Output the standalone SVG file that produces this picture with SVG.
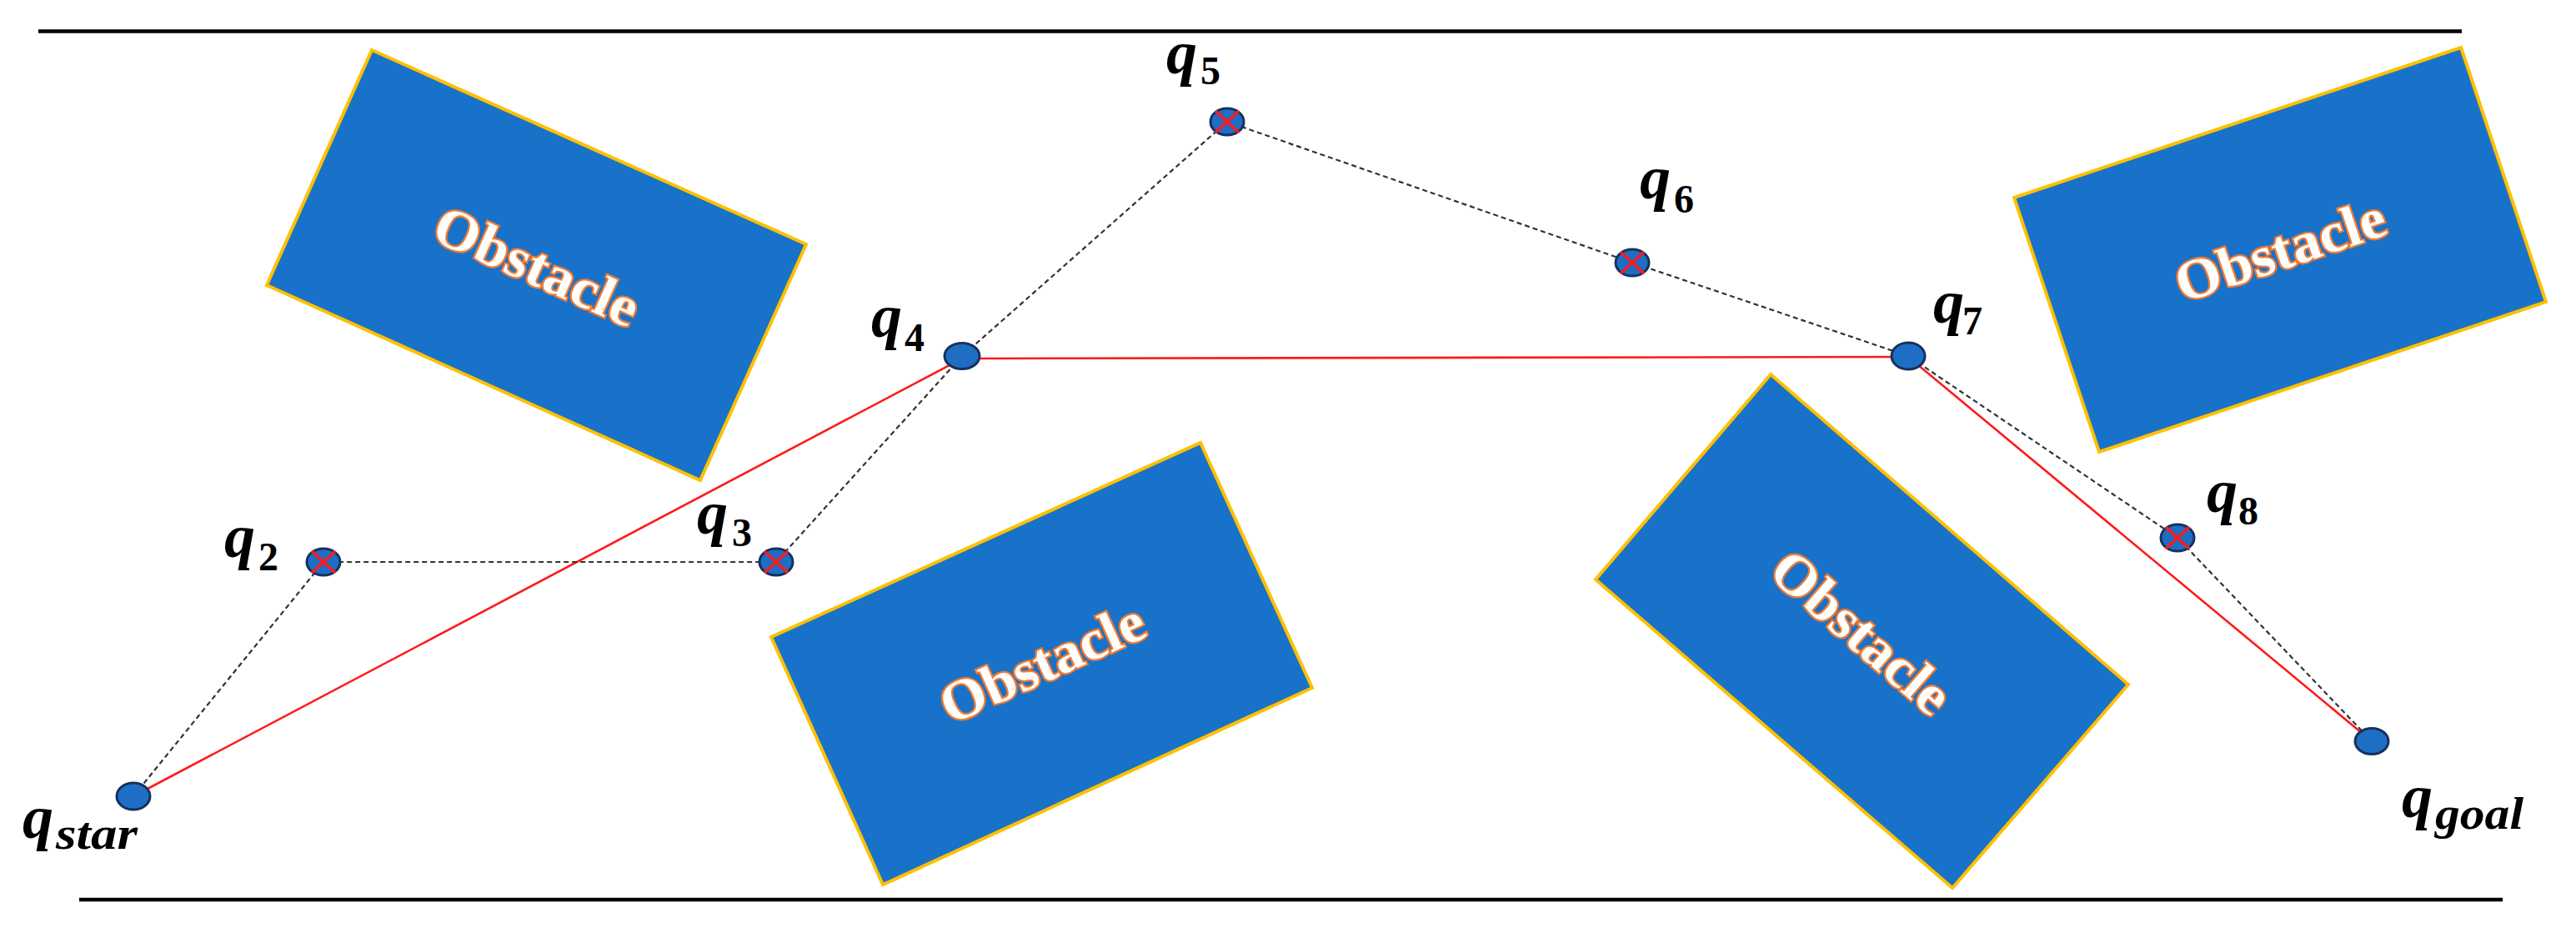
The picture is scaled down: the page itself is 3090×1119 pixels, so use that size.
<svg xmlns="http://www.w3.org/2000/svg" width="3090" height="1119" viewBox="0 0 3090 1119">
<style>
.frame{stroke:#000;stroke-width:4.5;fill:none}
.obs{fill:#1872C9;stroke:#FFC000;stroke-width:4;stroke-linejoin:miter}
.obt{font-family:"Liberation Serif",serif;font-weight:bold;font-size:68px;fill:#fff;stroke:#F47A2E;stroke-width:4.5;paint-order:stroke;text-anchor:middle;dominant-baseline:central}
.red{stroke:#FF1A1A;stroke-width:2.6;fill:none}
.dash{stroke:#333;stroke-width:2.2;stroke-dasharray:6 4;fill:none}
.nd{fill:#1E6EC4;stroke:#16325C;stroke-width:3}
.x{stroke:#FF1A1A;stroke-width:3.6}
.q{font-family:"Liberation Serif",serif;font-weight:bold;font-style:italic;font-size:74px;fill:#000}
.s{font-family:"Liberation Serif",serif;font-weight:bold;font-size:48px;fill:#000}
.si{font-family:"Liberation Serif",serif;font-weight:bold;font-style:italic;font-size:54px;fill:#000}
</style>
<defs>
<g id="xm"><line class="x" x1="-14" y1="-13" x2="14" y2="13"/><line class="x" x1="14" y1="-13" x2="-14" y2="13"/></g>
</defs>
<rect width="3090" height="1119" fill="#fff"/>
<g id="frame">
<line class="frame" x1="46" y1="37.5" x2="2953" y2="37.5"/>
<line class="frame" x1="95" y1="1079" x2="3002" y2="1079"/>
</g>
<g id="obstacle1">
<polygon class="obs" points="446,60 967,293 840,576 320,342"/>
<text class="obt" transform="translate(644,319) rotate(24.1)" textLength="262" lengthAdjust="spacingAndGlyphs">Obstacle</text>
</g>
<g id="obstacle2">
<polygon class="obs" points="1440,531 1574,825 1059,1061 925,764"/>
<text class="obt" transform="translate(1250,795) rotate(-24.3)" textLength="262" lengthAdjust="spacingAndGlyphs">Obstacle</text>
</g>
<g id="obstacle3">
<polygon class="obs" points="2124,449 2553,821 2342,1065 1914,695"/>
<text class="obt" transform="translate(2233,758) rotate(41)" textLength="262" lengthAdjust="spacingAndGlyphs">Obstacle</text>
</g>
<g id="obstacle4">
<polygon class="obs" points="2952,57 3054,362 2518,542 2416,237"/>
<text class="obt" transform="translate(2735,300) rotate(-18.6)" textLength="262" lengthAdjust="spacingAndGlyphs">Obstacle</text>
</g>
<g id="connectors">
<polyline class="red" points="160,955 1154,430 2289,428 2845,889"/>
<polyline class="dash" points="160,955 388,674 931,674 1154,427 1472,146 1958,315 2289,427 2612,645 2845,889"/>
</g>
<g id="q_star">
<ellipse class="nd" cx="160" cy="955" rx="20" ry="16"/>
<text x="27" y="1005"><tspan class="q">q</tspan><tspan class="si" x="67" y="1018" textLength="98" lengthAdjust="spacingAndGlyphs">star</tspan></text>
</g>
<g id="q2">
<ellipse class="nd" cx="388" cy="674" rx="20" ry="16"/><use href="#xm" x="388" y="674"/>
<text x="269" y="668"><tspan class="q">q</tspan><tspan class="s" x="310" y="684">2</tspan></text>
</g>
<g id="q3">
<ellipse class="nd" cx="931" cy="674" rx="20" ry="16"/><use href="#xm" x="931" y="674"/>
<text x="836" y="640"><tspan class="q">q</tspan><tspan class="s" x="878" y="655">3</tspan></text>
</g>
<g id="q4">
<ellipse class="nd" cx="1154" cy="427" rx="21" ry="15.5"/>
<text x="1045" y="404"><tspan class="q">q</tspan><tspan class="s" x="1085" y="421">4</tspan></text>
</g>
<g id="q5">
<ellipse class="nd" cx="1472" cy="146" rx="20" ry="16"/><use href="#xm" x="1472" y="146"/>
<text x="1399" y="88"><tspan class="q">q</tspan><tspan class="s" x="1440" y="101">5</tspan></text>
</g>
<g id="q6">
<ellipse class="nd" cx="1958" cy="315" rx="20" ry="16"/><use href="#xm" x="1958" y="315"/>
<text x="1967" y="238"><tspan class="q">q</tspan><tspan class="s" x="2008" y="255">6</tspan></text>
</g>
<g id="q7">
<ellipse class="nd" cx="2289" cy="427" rx="20" ry="16"/>
<text x="2319" y="387"><tspan class="q">q</tspan><tspan class="s" x="2354" y="401">7</tspan></text>
</g>
<g id="q8">
<ellipse class="nd" cx="2612" cy="645" rx="20" ry="16"/><use href="#xm" x="2612" y="645"/>
<text x="2647" y="614"><tspan class="q">q</tspan><tspan class="s" x="2685" y="629">8</tspan></text>
</g>
<g id="q_goal">
<ellipse class="nd" cx="2845" cy="889" rx="20" ry="15.5"/>
<text x="2881" y="980"><tspan class="q">q</tspan><tspan class="si" x="2921" y="994" textLength="106" lengthAdjust="spacingAndGlyphs">goal</tspan></text>
</g>
</svg>
